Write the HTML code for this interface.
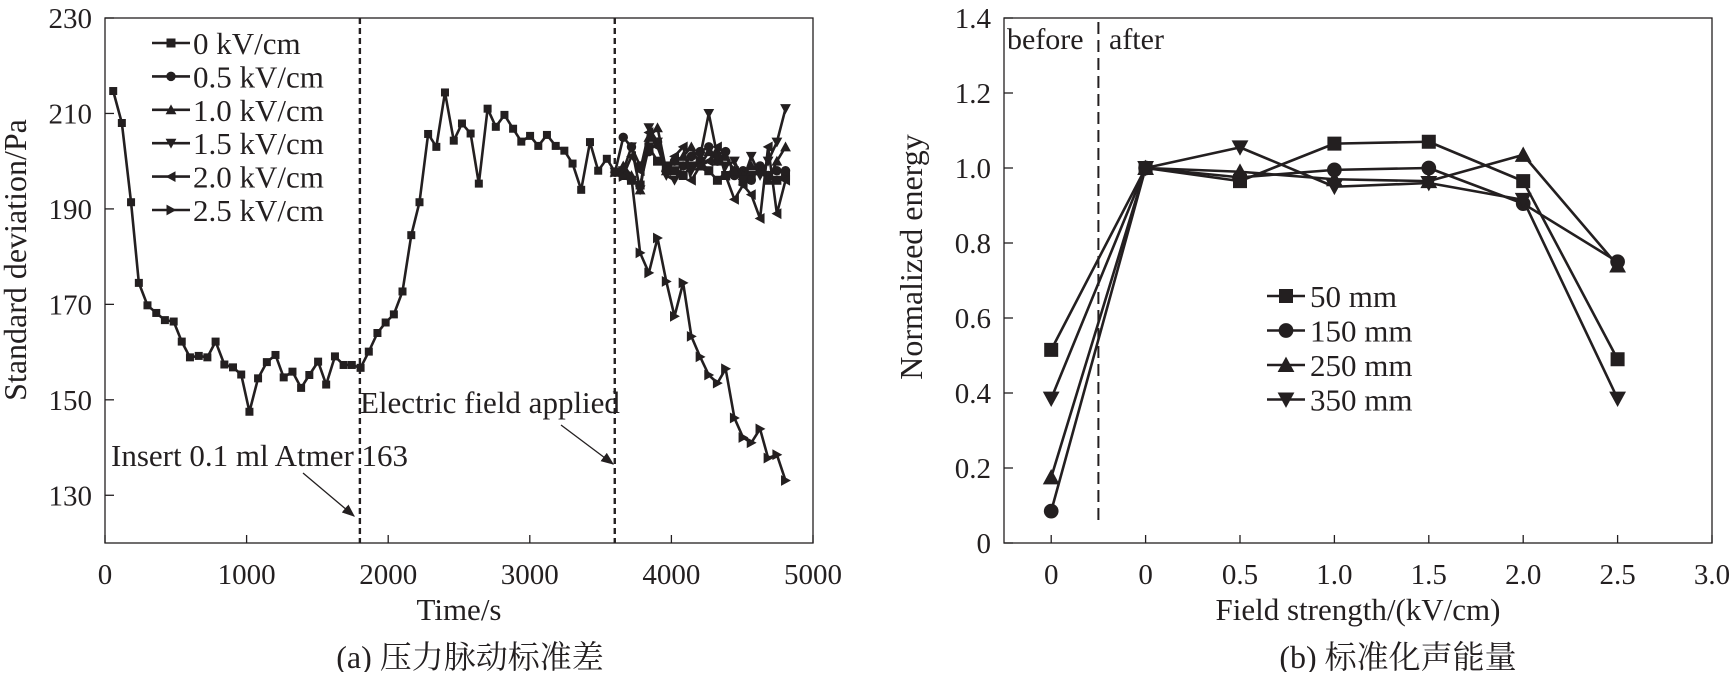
<!DOCTYPE html>
<html><head><meta charset="utf-8"><style>
html,body{margin:0;padding:0;background:#fff;}
svg text{font-family:"Liberation Serif","Noto Serif CJK SC",serif;fill:#231f20;}
</style></head><body>
<svg id="c" width="1731" height="672" viewBox="0 0 1731 672" xmlns="http://www.w3.org/2000/svg">
<defs><marker id="ah" markerWidth="10" markerHeight="8" refX="9" refY="4" orient="auto"><path d="M0,0 L10,4 L0,8 Z" fill="#231f20"/></marker></defs>
<g id="left"></g>
<g id="right"></g>
</svg>
<script>
// ---- Chart A data ----
const baseTimes=[58,119,184,239,300,362,423,485,542,600,662,723,781,843,904,962,1020,1081,1143,1204,1262,1324,1385,1443,1505,1562,1624,1685,1743,1805,1863,1924,1982,2040,2101,2163,2221,2282,2340,2401,2463,2521,2582,2640,2702,2760,2821,2882,2940,3002,3060,3121,3183,3244,3302,3363,3425,3483,3544,3602];
const baseValues=[214.7,208,191.4,174.5,169.8,168.2,166.7,166.4,162.2,158.9,159.2,158.9,162.2,157.4,156.8,155.3,147.5,154.5,157.9,159.4,154.7,155.9,152.5,155.2,158,153.2,159.1,157.3,157.3,156.7,160.1,164,166.2,167.9,172.7,184.5,191.4,205.7,203,214.4,204.3,207.9,205.8,195.3,211,207.2,209.7,206.8,204.1,205.3,203.2,205.5,203.2,202.2,199.5,194,204,198,200.5,197.7];
const afterTimes=[3660,3718,3779,3841,3902,3964,4022,4083,4141,4203,4264,4325,4383,4445,4506,4564,4626,4683,4745,4806];
const s0=[197,196,195,203,200,199,198,197,199,200,198,196,197,198,196,197,198,197,196,197];
const s05=[205,203,199,202,204,198,200,199,201,202,203,200,202,197,198,196,199,197,198,198];
const s10=[199,197,194,205,207,198,200,201,203,199,202,200,201,198,197,199,198,196,200,203];
const s15=[198,203,194,207,204,197,196,199,198,201,210,201,199,200,196,201,197,200,204,211];
const s20=[197,201,198,206,203,198,201,203,196,199,200,203,197,192,195,193,188,203,189,196];
const s25=[196.8,196.5,180.8,176.6,183.9,174.8,167.5,174.5,163.3,159,155.2,153.5,156.5,146.2,142.1,141,143.9,137.8,138.5,133.1];
const legendA=["0 kV/cm","0.5 kV/cm","1.0 kV/cm","1.5 kV/cm","2.0 kV/cm","2.5 kV/cm"];
const xTicksA=[0,1000,2000,3000,4000,5000];
const yTicksA=[130,150,170,190,210,230];
// ---- Chart B data ----
const posB=[-0.5,0,0.5,1,1.5,2,2.5];
const xTickPosB=[-0.5,0,0.5,1,1.5,2,2.5,3];
const xTickLabB=["0","0","0.5","1.0","1.5","2.0","2.5","3.0"];
const yTicksB=[0,0.2,0.4,0.6,0.8,1.0,1.2,1.4];
const yTickLabB=["0","0.2","0.4","0.6","0.8","1.0","1.2","1.4"];
const e50=[0.515,1.0,0.965,1.065,1.07,0.965,0.49];
const e150=[0.085,1.0,0.975,0.995,1.0,0.905,0.75];
const e250=[0.175,1.0,0.99,0.97,0.965,1.035,0.74];
const e350=[0.385,1.0,1.055,0.95,0.96,0.915,0.385];
const legendB=["50 mm","150 mm","250 mm","350 mm"];

const NS="http://www.w3.org/2000/svg";
function mk(parent,tag,attrs){const e=document.createElementNS(NS,tag);for(const k in attrs)e.setAttribute(k,attrs[k]);parent.appendChild(e);return e;}
function marker(g,type,x,y,r){
  let e;
  if(type==='sq') e=mk(g,'rect',{x:x-r,y:y-r,width:2*r,height:2*r,fill:'#231f20'});
  else if(type==='ci') e=mk(g,'circle',{cx:x,cy:y,r:r*1.05,fill:'#231f20'});
  else { let p;
    if(type==='up') p=[[x,y-r*1.2],[x-r*1.2,y+r],[x+r*1.2,y+r]];
    if(type==='dn') p=[[x,y+r*1.2],[x-r*1.2,y-r],[x+r*1.2,y-r]];
    if(type==='lt') p=[[x-r*1.2,y],[x+r,y-r*1.2],[x+r,y+r*1.2]];
    if(type==='rt') p=[[x+r*1.2,y],[x-r,y-r*1.2],[x-r,y+r*1.2]];
    e=mk(g,'polygon',{points:p.map(q=>q.join(',')).join(' '),fill:'#231f20'});
  }
  
  
}
function txt(g,x,y,s,size,anchor,name){const t=mk(g,'text',{x:x,y:y,'font-size':size,'text-anchor':anchor||'start'});t.textContent=s;return t;}
function series(g,xs,ys,xf,yf,type,r,name){
  const sg=mk(g,'g',{});
  
  
  const pts=xs.map((x,i)=>xf(x)+','+yf(ys[i])).join(' ');
  mk(sg,'polyline',{points:pts,fill:'none',stroke:'#231f20','stroke-width':2.6,'stroke-linejoin':'round'});
  xs.forEach((x,i)=>marker(sg,type,xf(x),yf(ys[i]),r));
}

// ===== Chart A =====
(function(){
  const g=document.getElementById('left');
  const X0=105,X1=813,Y0=18,Y1=543;
  const xf=t=>X0+(t/5000)*(X1-X0);
  const yf=v=>Y1-(v-120)/110*(Y1-Y0);
  const fr=mk(g,'rect',{x:X0,y:Y0,width:X1-X0,height:Y1-Y0,fill:'none',stroke:'#231f20','stroke-width':1.3});
  
  
  xTicksA.forEach(t=>{mk(g,'line',{x1:xf(t),x2:xf(t),y1:Y1,y2:Y1-8,stroke:'#231f20','stroke-width':1.3});txt(g,xf(t),584,String(t),29,'middle','x-tick-label');});
  yTicksA.forEach(v=>{mk(g,'line',{x1:X0,x2:X0+9,y1:yf(v),y2:yf(v),stroke:'#231f20','stroke-width':1.3});txt(g,X0-13,yf(v)+10,String(v),29,'end','y-tick-label');});
  [1800,3600].forEach(t=>{const l=mk(g,'line',{x1:xf(t),x2:xf(t),y1:Y0,y2:Y1,stroke:'#231f20','stroke-width':2.4,'stroke-dasharray':'6,4'});});
  txt(g,111,466,'Insert 0.1 ml Atmer 163',31,'start','annotation-insert');
  mk(g,'line',{x1:303,y1:473,x2:354,y2:516,stroke:'#231f20','stroke-width':1.3,'marker-end':'url(#ah)'});
  txt(g,360,413,'Electric field applied',31,'start','annotation-field');
  mk(g,'line',{x1:561,y1:425,x2:613,y2:464,stroke:'#231f20','stroke-width':1.3,'marker-end':'url(#ah)'});
  series(g,baseTimes,baseValues,xf,yf,'sq',4,'series-baseline');
  const all=[[s0,'sq'],[s05,'ci'],[s10,'up'],[s15,'dn'],[s20,'lt'],[s25,'rt']];
  all.forEach((s,i)=>series(g,[3602].concat(afterTimes),[197.7].concat(s[0]),xf,yf,s[1],4.5,'series-'+i));
  const types=['sq','ci','up','dn','lt','rt'];
  legendA.forEach((l,i)=>{const y=43+i*33.4;mk(g,'line',{x1:152,x2:190,y1:y,y2:y,stroke:'#231f20','stroke-width':2.6});marker(g,types[i],171,y,4.5);txt(g,193,y+11,l,31,'start','legend-entry');});
  txt(g,459,620,'Time/s',31,'middle','x-axis-title');
  const yt=txt(g,0,0,'Standard deviation/Pa',32,'middle','y-axis-title');yt.setAttribute('transform','translate(26,260) rotate(-90)');
  txt(g,470,668,'(a) 压力脉动标准差',32,'middle','caption-a');
})();

// ===== Chart B =====
(function(){
  const g=document.getElementById('right');
  const X0=1004,X1=1712,Y0=18,Y1=543;
  const xf=v=>X0+(v+0.75)/3.75*(X1-X0);
  const yf=v=>Y1-v/1.4*(Y1-Y0);
  const fr=mk(g,'rect',{x:X0,y:Y0,width:X1-X0,height:Y1-Y0,fill:'none',stroke:'#231f20','stroke-width':1.3});
  
  
  xTickPosB.forEach((p,i)=>{mk(g,'line',{x1:xf(p),x2:xf(p),y1:Y1,y2:Y1-8,stroke:'#231f20','stroke-width':1.3});txt(g,xf(p),584,xTickLabB[i],29,'middle','x-tick-label');});
  yTicksB.forEach((v,i)=>{mk(g,'line',{x1:X0,x2:X0+9,y1:yf(v),y2:yf(v),stroke:'#231f20','stroke-width':1.3});txt(g,X0-13,yf(v)+10,yTickLabB[i],29,'end','y-tick-label');});
  const d=mk(g,'line',{x1:xf(-0.25),x2:xf(-0.25),y1:Y0+4,y2:yf(0.05),stroke:'#231f20','stroke-width':2,'stroke-dasharray':'12,6'});
  
  txt(g,1007,49,'before',30,'start','before-label');
  txt(g,1109,49,'after',30,'start','after-label');
  const types=['sq','ci','up','dn'];
  [e50,e150,e250,e350].forEach((s,i)=>series(g,posB,s,xf,yf,types[i],7,'series-'+legendB[i].replace(' ','')));
  legendB.forEach((l,i)=>{const y=296+i*34.5;mk(g,'line',{x1:1267,x2:1305,y1:y,y2:y,stroke:'#231f20','stroke-width':2.6});marker(g,types[i],1286,y,7);txt(g,1310,y+11,l,31,'start','legend-entry');});
  txt(g,1358,620,'Field strength/(kV/cm)',31,'middle','x-axis-title');
  const yt=txt(g,0,0,'Normalized energy',32,'middle','y-axis-title');yt.setAttribute('transform','translate(922,257) rotate(-90)');
  txt(g,1398,668,'(b) 标准化声能量',32,'middle','caption-b');
})();
</script>
</body></html>
